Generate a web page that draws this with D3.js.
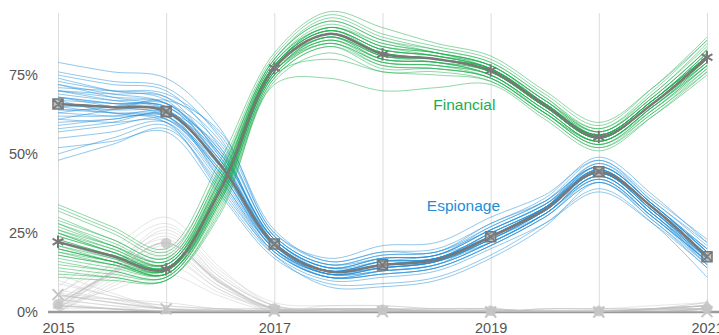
<!DOCTYPE html>
<html><head><meta charset="utf-8">
<script src="https://cdn.jsdelivr.net/npm/d3@7"></script>
<style>body{margin:0;background:#fff}svg{display:block;font-family:"Liberation Sans",Arial,Helvetica,sans-serif}</style>
</head><body><svg id="c" width="719" height="335"></svg>
<script>
// half-year sample times; markers only at whole years
const times = [2015, 2015.5, 2016, 2016.5, 2017, 2017.5, 2018, 2018.5, 2019, 2019.5, 2020, 2020.5, 2021];
const years = [2015, 2016, 2017, 2018, 2019, 2020, 2021];
const tickYears = [2015, 2017, 2019, 2021];
const yTicks = [0, 25, 50, 75];

const espionageMean = [65.8, 64.8, 63.4, 46.6, 21.5, 12.8, 14.9, 16.5, 23.8, 32.3, 44.4, 33.0, 17.5];
const financialMean = [22.2, 17.7, 13.5, 38.6, 77.2, 88.0, 81.6, 80.0, 76.4, 65.5, 55.4, 66.0, 80.6];
const otherAMean = [2.4, 12.6, 21.8, 9.4, 1.1, 0.8, 0.7, 0.4, 0.4, 0.3, 0.3, 0.6, 1.1];
const otherBMean = [5.5, 3.0, 1.0, 0.5, 0.3, 0.2, 0.1, 0.0, 0.0, 0.0, 0.0, 0.0, 0.1];
const otherCMean = [2.0, 1.0, 0.3, 0.2, 0.2, 0.2, 0.3, 0.2, 0.2, 0.2, 0.2, 1.0, 2.0];

const espionageSamples = [
  [72, 69, 66, 50, 23, 14, 16, 17, 25, 33, 45, 33, 18],
  [60, 61, 62, 44, 20, 12, 13, 15, 22, 31, 43, 31, 16],
  [79, 76, 74, 58, 26, 16, 19, 20, 28, 36, 49, 37, 22],
  [48, 53, 58, 40, 18, 8, 8, 10, 17, 27, 41, 29, 14],
  [68, 66, 65, 49, 22, 13, 15, 17, 24, 33, 46, 34, 19],
  [63, 62, 61, 45, 21, 12, 14, 16, 23, 32, 44, 32, 17],
  [70, 69, 68, 54, 24, 15, 18, 19, 26, 34, 45, 33, 20],
  [55, 57, 60, 42, 19, 11, 12, 14, 21, 30, 42, 30, 15],
  [66, 65, 64, 48, 22, 13, 16, 17, 24, 32, 44, 32, 18],
  [74, 70, 67, 47, 23, 14, 17, 18, 27, 35, 48, 35, 22],
  [58, 60, 63, 52, 20, 11, 13, 15, 22, 31, 42, 30, 16],
  [65, 63, 62, 44, 21, 13, 15, 17, 23, 32, 45, 33, 17],
  [71, 70, 69, 56, 25, 16, 19, 19, 28, 35, 46, 34, 19],
  [52, 54, 57, 37, 17, 9, 9, 11, 18, 28, 39, 28, 11],
  [67, 66, 65, 51, 22, 12, 14, 16, 25, 33, 44, 32, 18],
  [62, 62, 63, 46, 21, 13, 16, 18, 24, 32, 43, 31, 17],
  [76, 73, 71, 55, 24, 15, 17, 18, 26, 34, 47, 34, 20],
  [61, 60, 60, 41, 19, 11, 12, 14, 21, 30, 41, 29, 15],
  [69, 67, 66, 50, 23, 13, 15, 16, 24, 33, 45, 33, 18],
  [64, 64, 64, 47, 22, 13, 14, 16, 23, 32, 44, 32, 16],
  [73, 70, 68, 49, 21, 12, 13, 15, 24, 33, 46, 34, 19],
  [57, 59, 61, 46, 20, 13, 15, 17, 22, 31, 43, 31, 17],
  [66, 64, 63, 50, 23, 14, 17, 18, 26, 34, 44, 33, 18],
  [68, 65, 62, 43, 20, 12, 14, 16, 23, 31, 42, 30, 16],
  [50, 55, 59, 38, 18, 10, 11, 13, 20, 28, 38, 28, 14],
  [70, 67, 64, 48, 22, 13, 16, 17, 25, 33, 45, 33, 19],
  [63, 65, 66, 53, 24, 15, 18, 19, 27, 35, 46, 34, 20],
  [67, 63, 60, 39, 19, 11, 13, 15, 22, 31, 43, 31, 15],
  [75, 72, 70, 52, 23, 14, 15, 17, 24, 33, 47, 35, 21],
  [59, 61, 62, 45, 21, 13, 14, 16, 23, 32, 44, 32, 17],
  [65, 65, 65, 48, 21, 12, 15, 17, 24, 33, 45, 33, 18],
  [72, 68, 64, 42, 20, 11, 12, 14, 21, 30, 41, 30, 16],
  [61, 64, 67, 57, 25, 17, 21, 22, 30, 37, 48, 36, 23],
  [68, 66, 63, 47, 22, 13, 16, 17, 25, 33, 44, 32, 17],
  [64, 63, 61, 44, 20, 12, 14, 16, 22, 31, 43, 31, 16],
  [70, 68, 66, 51, 23, 14, 17, 18, 26, 34, 46, 34, 19]
];
const financialSamples = [
  [25, 20, 15, 41, 78, 89, 83, 81, 77, 66, 56, 67, 81],
  [18, 15, 12, 36, 76, 86, 80, 79, 75, 64, 54, 65, 79],
  [33, 26, 19, 45, 80, 92, 86, 83, 79, 68, 58, 70, 86],
  [12, 11, 10, 33, 74, 84, 78, 77, 74, 63, 53, 63, 77],
  [22, 18, 14, 39, 77, 88, 82, 80, 76, 65, 55, 66, 80],
  [28, 22, 16, 43, 79, 91, 85, 82, 78, 67, 57, 68, 83],
  [20, 16, 13, 38, 76, 87, 81, 80, 76, 65, 55, 66, 80],
  [15, 13, 11, 35, 75, 86, 79, 78, 75, 64, 54, 65, 78],
  [24, 19, 14, 40, 78, 90, 84, 81, 77, 66, 56, 67, 82],
  [30, 23, 17, 44, 80, 93, 87, 83, 79, 68, 57, 69, 84],
  [19, 15, 12, 37, 77, 87, 80, 79, 76, 65, 55, 66, 79],
  [26, 20, 15, 41, 78, 89, 83, 81, 78, 66, 56, 67, 82],
  [11, 10, 10, 32, 73, 82, 76, 76, 73, 62, 52, 62, 75],
  [23, 18, 14, 39, 77, 88, 82, 80, 77, 65, 55, 66, 81],
  [21, 17, 13, 38, 76, 87, 81, 79, 75, 64, 54, 65, 80],
  [27, 21, 16, 42, 79, 90, 84, 82, 78, 67, 57, 68, 83],
  [17, 14, 12, 35, 75, 85, 78, 77, 74, 63, 53, 64, 78],
  [25, 19, 14, 40, 78, 89, 83, 81, 77, 66, 56, 67, 81],
  [22, 17, 13, 39, 77, 88, 82, 80, 76, 65, 55, 66, 80],
  [29, 23, 17, 44, 80, 92, 86, 82, 78, 67, 58, 69, 85],
  [14, 12, 11, 34, 74, 84, 77, 77, 74, 63, 54, 64, 77],
  [24, 19, 15, 40, 78, 89, 82, 80, 77, 66, 56, 67, 81],
  [20, 16, 12, 37, 76, 87, 80, 79, 76, 65, 55, 66, 79],
  [32, 25, 18, 46, 81, 94, 88, 84, 80, 69, 59, 71, 87],
  [16, 13, 11, 35, 75, 85, 79, 78, 75, 63, 53, 64, 78],
  [23, 18, 14, 39, 77, 88, 81, 80, 76, 65, 55, 66, 80],
  [26, 21, 16, 42, 79, 90, 85, 82, 77, 66, 57, 68, 83],
  [19, 16, 13, 37, 76, 86, 80, 79, 75, 64, 54, 65, 79],
  [21, 16, 12, 38, 77, 88, 82, 80, 77, 66, 56, 67, 81],
  [28, 21, 15, 42, 78, 90, 84, 82, 78, 67, 56, 67, 82],
  [13, 11, 10, 31, 72, 74, 70, 71, 72, 61, 51, 62, 76],
  [34, 27, 20, 48, 82, 95, 90, 85, 81, 70, 60, 71, 86],
  [18, 15, 13, 36, 76, 85, 79, 78, 74, 63, 54, 65, 78],
  [25, 19, 14, 40, 78, 89, 83, 81, 77, 66, 55, 66, 80],
  [22, 18, 15, 39, 77, 87, 81, 80, 76, 65, 56, 67, 81],
  [20, 16, 12, 36, 75, 80, 76, 75, 73, 62, 52, 63, 76]
];
const otherSamples = [
  [0, 10, 18, 7, 1, 1, 1, 0, 0, 0, 0, 0, 1],
  [3, 15, 25, 11, 2, 1, 1, 1, 1, 0, 0, 1, 1],
  [1, 12, 22, 9, 0, 0, 0, 0, 0, 1, 1, 1, 2],
  [5, 18, 28, 13, 3, 2, 2, 1, 1, 0, 0, 0, 1],
  [0, 8, 15, 6, 1, 0, 0, 0, 0, 0, 0, 0, 0],
  [2, 11, 20, 8, 1, 1, 1, 0, 0, 1, 1, 1, 1],
  [8, 20, 30, 14, 2, 1, 1, 1, 1, 0, 0, 1, 2],
  [1, 13, 24, 10, 0, 1, 1, 0, 0, 0, 0, 0, 1],
  [4, 12, 19, 8, 1, 0, 0, 1, 1, 0, 0, 0, 0],
  [0, 13, 26, 11, 2, 1, 1, 0, 0, 1, 1, 2, 3],
  [6, 15, 23, 10, 1, 2, 2, 1, 1, 0, 0, 0, 1],
  [2, 7, 12, 5, 0, 0, 0, 0, 0, 0, 0, 0, 0],
  [3, 12, 21, 9, 1, 1, 1, 0, 0, 1, 1, 1, 2],
  [1, 14, 27, 12, 2, 1, 1, 1, 1, 0, 0, 0, 1],
  [0, 9, 17, 7, 0, 0, 0, 0, 0, 0, 0, 1, 1],
  [10, 5, 2, 1, 0, 0, 0, 0, 0, 0, 0, 0, 0],
  [4, 2, 0, 0, 1, 0, 0, 0, 0, 0, 0, 0, 0],
  [12, 6, 1, 0, 0, 0, 0, 0, 0, 0, 0, 0, 0],
  [7, 4, 1, 1, 0, 0, 1, 0, 0, 0, 0, 0, 0],
  [5, 4, 3, 1, 1, 0, 0, 0, 0, 0, 0, 0, 0],
  [9, 5, 1, 0, 0, 0, 0, 0, 0, 0, 0, 0, 0],
  [6, 4, 2, 1, 0, 0, 0, 0, 0, 0, 0, 0, 0],
  [3, 1, 0, 0, 0, 0, 0, 0, 0, 0, 0, 1, 2],
  [2, 1, 0, 0, 0, 0, 1, 0, 0, 0, 0, 1, 3],
  [1, 1, 0, 1, 1, 0, 0, 0, 1, 0, 0, 1, 2],
  [4, 2, 1, 0, 0, 0, 1, 0, 0, 0, 0, 1, 3]
];

const W = 719, H = 335;
const svg = d3.select("#c");
const x = d3.scaleLinear().domain([2015, 2021]).range([58, 707]);
const y = d3.scaleLinear().domain([0, 100]).range([312, -4]);
const line = d3.line().x((d, i) => x(times[i])).y(d => y(d)).curve(d3.curveCatmullRom.alpha(0.5));
const atYears = arr => arr.map((v, i) => ({t: times[i], v})).filter(d => Number.isInteger(d.t));

const BLUE = "#1f8dd6", GREEN = "#1aae4c", MEANC = "#787878";

svg.append("defs").append("clipPath").attr("id", "plot")
  .append("rect").attr("x", 0).attr("y", 0).attr("width", W).attr("height", y(0));

// grid + x labels
const xAxis = d3.axisBottom(x).tickValues(years)
  .tickFormat(d => tickYears.includes(d) ? String(d) : "")
  .tickSize(-(312 - 13)).tickSizeOuter(0).tickPadding(11);
const gx = svg.append("g").attr("transform", "translate(0,312)").call(xAxis);
gx.select(".domain").remove();
gx.selectAll(".tick line").attr("stroke", "#dcdcdc").attr("stroke-width", 1);
gx.selectAll(".tick text").attr("fill", "#555").attr("font-size", 14.5).attr("font-family", "Liberation Sans, Arial, sans-serif");

const yAxis = d3.axisLeft(y).tickValues(yTicks).tickFormat(d => d + "%").tickSize(0).tickPadding(2);
const gy = svg.append("g").attr("transform", "translate(40,0)").call(yAxis);
gy.select(".domain").remove();
gy.selectAll(".tick text").attr("fill", "#555").attr("font-size", 14.5).attr("font-family", "Liberation Sans, Arial, sans-serif");

// spaghetti
const sp = svg.append("g").attr("fill", "none").attr("clip-path", "url(#plot)");
sp.selectAll(".o").data(otherSamples).join("path").attr("class", "o").attr("d", line)
  .attr("stroke", "#c8c8c8").attr("stroke-width", 1).attr("stroke-opacity", 0.45);
sp.selectAll(".b").data(espionageSamples).join("path").attr("class", "b").attr("d", line)
  .attr("stroke", BLUE).attr("stroke-width", 0.9).attr("stroke-opacity", 0.55);
sp.selectAll(".g").data(financialSamples).join("path").attr("class", "g").attr("d", line)
  .attr("stroke", GREEN).attr("stroke-width", 0.9).attr("stroke-opacity", 0.55);

// baseline
svg.append("line").attr("x1", x.range()[0] - 10).attr("x2", W).attr("y1", y(0)).attr("y2", y(0))
  .attr("stroke", "#9a9a9a").attr("stroke-width", 2.5);

// other means
const om = svg.append("g").attr("fill", "none").attr("clip-path", "url(#plot)");
[otherAMean, otherBMean, otherCMean].forEach(m => {
  om.append("path").attr("d", line(m)).attr("stroke", "#bdbdbd").attr("stroke-width", 1.5).attr("stroke-opacity", 0.7);
});
const sym = (t, s) => d3.symbol(t, s)();
const markOther = (arr, type, size, stroke) => {
  svg.append("g").selectAll("path").data(atYears(arr)).join("path")
    .attr("transform", d => `translate(${x(d.t)},${y(d.v)})`)
    .attr("d", sym(type, size))
    .attr("fill", stroke ? "none" : "#c4c4c4").attr("fill-opacity", 0.8)
    .attr("stroke", stroke ? "#c4c4c4" : "none").attr("stroke-width", 2);
};
markOther(otherAMean, d3.symbolCircle, 90, false);
markOther(otherBMean, d3.symbolTimes || d3.symbolCross, 80, true);
markOther(otherCMean, d3.symbolTriangle, 50, false);

// main means
svg.append("path").attr("d", line(espionageMean)).attr("fill", "none").attr("stroke", MEANC).attr("stroke-width", 2.5);
svg.append("path").attr("d", line(financialMean)).attr("fill", "none").attr("stroke", MEANC).attr("stroke-width", 2.5);

const sqX = "M-5,-5H5V5H-5Z M-5,-5L5,5 M5,-5L-5,5";
svg.append("g").selectAll("path").data(atYears(espionageMean)).join("path")
  .attr("transform", d => `translate(${x(d.t)},${y(d.v)})`)
  .attr("d", sqX).attr("fill", "#9a9a9a").attr("fill-opacity", 0.6)
  .attr("stroke", MEANC).attr("stroke-width", 1.6);
const ast = d3.symbolAsterisk ? sym(d3.symbolAsterisk, 110) : "M0,6V-6M-5.2,-3L5.2,3M-5.2,3L5.2,-3";
svg.append("g").selectAll("path").data(atYears(financialMean)).join("path")
  .attr("transform", d => `translate(${x(d.t)},${y(d.v)})`)
  .attr("d", ast).attr("fill", "none").attr("stroke", MEANC).attr("stroke-width", 2);

// labels
svg.append("text").attr("x", x(2018.47)).attr("y", y(64)).text("Financial")
  .attr("fill", GREEN).attr("font-size", 15.5);
svg.append("text").attr("x", x(2018.41)).attr("y", y(32)).text("Espionage")
  .attr("fill", BLUE).attr("font-size", 15.5);
</script></body></html>
